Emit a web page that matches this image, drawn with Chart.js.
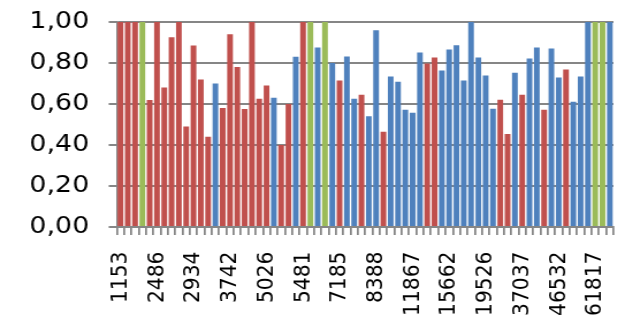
<!DOCTYPE html>
<html>
<head>
<meta charset="utf-8">
<script src="https://cdn.jsdelivr.net/npm/chart.js@4"></script>
<style>
  html, body { margin: 0; padding: 0; background: #fff; overflow: hidden; }
  #wrap { width: 536px; height: 336px; transform: scale(1.151, 1); transform-origin: 0 0; }
</style>
</head>
<body>
<div id="wrap"><canvas id="chart"></canvas></div>
<script>
// every 5th category label (the others are not shown on the axis)
const tickLabels = ['1153', '2486', '2934', '3742', '5026', '5481', '7185',
                    '8388', '11867', '15662', '19526', '37037', '46532', '61817'];

const n = null;
const redValues = [
  1.00, 1.00, 1.00, n, 0.62, 1.00, 0.68, 0.925, 1.00, 0.49,
  0.885, 0.72, 0.44, n, 0.58, 0.94, 0.78, 0.575, 1.00, 0.625,
  0.69, n, 0.40, 0.60, n, 1.00, n, n, n, n,
  0.714, n, n, 0.645, n, n, 0.464, n, n, n,
  n, n, 0.797, 0.827, n, n, n, n, n, n,
  n, n, 0.621, 0.454, n, 0.645, n, n, 0.572, n,
  n, 0.768, n, n, n, n, n, n
];
const blueValues = [
  n, n, n, n, n, n, n, n, n, n,
  n, n, n, 0.70, n, n, n, n, n, n,
  n, 0.63, n, n, 0.83, n, n, 0.876, n, 0.80,
  n, 0.832, 0.626, n, 0.54, 0.96, n, 0.734, 0.709, 0.572,
  0.557, 0.851, n, n, 0.763, 0.866, 0.886, 0.714, 1.00, 0.827,
  0.739, 0.577, n, n, 0.753, n, 0.822, 0.876, n, 0.871,
  0.729, n, 0.611, 0.734, 1.00, n, n, 1.00
];
const greenValues = [
  n, n, n, 1.00, n, n, n, n, n, n,
  n, n, n, n, n, n, n, n, n, n,
  n, n, n, n, n, n, 1.00, n, 1.00, n,
  n, n, n, n, n, n, n, n, n, n,
  n, n, n, n, n, n, n, n, n, n,
  n, n, n, n, n, n, n, n, n, n,
  n, n, n, n, n, 1.00, 1.00, n
];

const categories = redValues.map((v, i) => (i % 5 === 0 ? tickLabels[i / 5] : ''));

const gray = '#868686';
const font = 'DejaVu Sans';

const ctx = document.getElementById('chart').getContext('2d');
const chart = new Chart(ctx, {
    type: 'bar',
    data: {
        labels: categories,
        datasets: [
            { label: 'red', data: redValues, backgroundColor: '#C0504D' },
            { label: 'blue', data: blueValues, backgroundColor: '#4F81BD' },
            { label: 'green', data: greenValues, backgroundColor: '#9BBB59' }
        ]
    },
    options: {
        responsive: true,
        maintainAspectRatio: false,
        animation: false,
        categoryPercentage: 1,
        barPercentage: 0.78,
        layout: { padding: { left: 8.6, right: 3, top: 22, bottom: 3.5 } },
        plugins: { legend: { display: false }, tooltip: { enabled: false } },
        scales: {
            x: {
                stacked: true,
                grid: { drawOnChartArea: false, drawTicks: true, tickLength: 8, color: gray, lineWidth: 1.75 },
                border: { color: gray, width: 2 },
                ticks: {
                    autoSkip: false, minRotation: 90, maxRotation: 90, padding: 16.5,
                    color: '#000', font: { family: font, size: 20.3 }
                },
                afterFit: s => { s.paddingLeft = 0; s.paddingRight = 0; }
            },
            y: {
                stacked: true,
                min: 0,
                max: 1,
                grid: { color: gray, lineWidth: 2, tickLength: 7 },
                border: { color: gray, width: 1.75 },
                ticks: {
                    stepSize: 0.2, padding: 17, color: '#000',
                    font: { family: font, size: 23.3 },
                    callback: v => v.toFixed(2).replace('.', ',')
                },
                afterFit: s => { s.paddingTop = 0; s.paddingBottom = 0; }
            }
        }
    }
});
</script>
</body>
</html>
